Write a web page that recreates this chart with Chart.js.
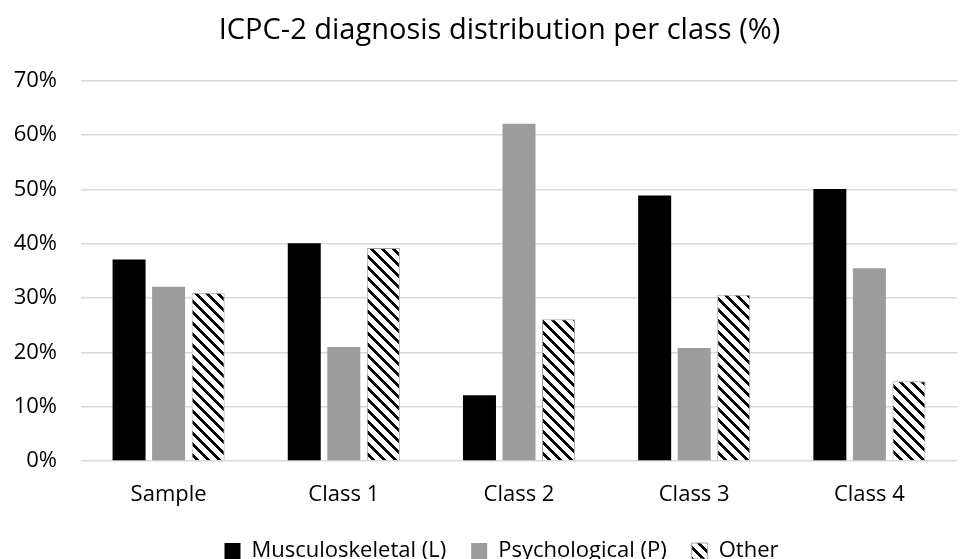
<!DOCTYPE html>
<html><head><meta charset="utf-8">
<script src="https://cdn.jsdelivr.net/npm/chart.js@4/dist/chart.umd.min.js"></script>
<style>html,body{margin:0;padding:0;background:#fff}#c{display:block}</style>
</head><body>
<canvas id="c" width="973" height="559"></canvas>
<script>
const categories = ["Sample", "Class 1", "Class 2", "Class 3", "Class 4"];
const musculoskeletal = [37.1, 40.1, 12.1, 48.9, 50.1];
const psychological = [32.1, 21.0, 62.1, 20.8, 35.5];
const other = [31.0, 39.2, 26.1, 30.6, 14.7];
const yTicks = [0, 10, 20, 30, 40, 50, 60, 70];

function hatch() {
  const n = 11;
  const cv = document.createElement('canvas');
  cv.width = n; cv.height = n;
  const cx = cv.getContext('2d');
  const img = cx.createImageData(n, n);
  for (let y = 0; y < n; y++) for (let x = 0; x < n; x++) {
    const d = (((x - y) % n) + n) % n;
    const v = d < 4 ? 0 : 255;
    const i = (y * n + x) * 4;
    img.data[i] = v; img.data[i+1] = v; img.data[i+2] = v; img.data[i+3] = 255;
  }
  cx.putImageData(img, 0, 0);
  return document.getElementById('c').getContext('2d').createPattern(cv, 'repeat');
}
const pat = hatch();
const FONT = "'Open Sans', sans-serif";

const shiftPlugin = {
  id: 'shiftBlocks',
  afterUpdate(chart) {
    const t = chart.titleBlock, l = chart.legend;
    if (t) { t.left += 15; t.right += 15; }
    if (l) { l.left += 17; l.right += 17; if (l.adjustHitBoxes) l.adjustHitBoxes(); }
  }
};

new Chart(document.getElementById('c'), {
  type: 'bar',
  data: {
    labels: categories,
    datasets: [
      {label: 'Musculoskeletal (L)', data: musculoskeletal, backgroundColor: '#000000', borderColor: '#000000', borderWidth: 0},
      {label: 'Psychological (P)', data: psychological, backgroundColor: '#9c9c9c', borderColor: '#9c9c9c', borderWidth: 0},
      {label: 'Other', data: other, backgroundColor: pat, borderColor: '#a6a6a6', borderWidth: 1}
    ]
  },
  plugins: [shiftPlugin],
  options: {
    responsive: false,
    animation: false,
    devicePixelRatio: 1,
    categoryPercentage: 0.677,
    barPercentage: 0.835,
    layout: {padding: {left: 12, right: 16, top: 0, bottom: -13}},
    plugins: {
      title: {display: true, text: 'ICPC-2 diagnosis distribution per class (%)', color: '#000', font: {family: FONT, size: 29, weight: 'normal'}, padding: {top: 13, bottom: 33}},
      legend: {position: 'bottom', labels: {color: '#000', boxWidth: 16, boxHeight: 16, padding: 25, font: {family: FONT, size: 22}}},
      tooltip: {enabled: false}
    },
    scales: {
      x: {grid: {display: false, drawTicks: false}, border: {display: false},
          afterFit: s => { s.height = 54; },
          ticks: {color: '#000', font: {family: FONT, size: 22}, padding: 21}},
      y: {min: 0, max: 70, afterBuildTicks: a => { a.ticks = yTicks.map(v => ({value: v})); },
          afterFit: s => { s.width = 69; },
          grid: {color: '#d9d9d9', lineWidth: 1.5, drawTicks: false}, border: {display: false},
          ticks: {color: '#000', font: {family: FONT, size: 22}, padding: 24, callback: v => v + '%'}}
    }
  }
});
</script>
</body></html>
